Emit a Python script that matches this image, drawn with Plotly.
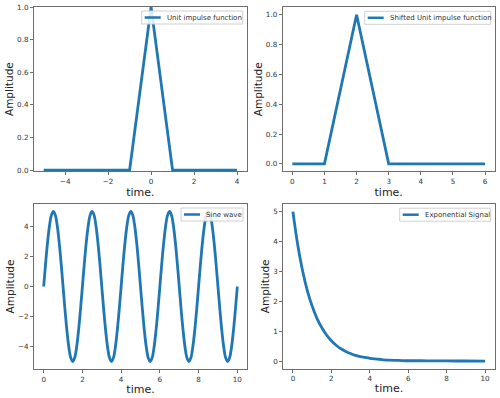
import plotly.graph_objects as go

# ---- data ----
t_impulse = [-5, -4, -3, -2, -1, 0, 1, 2, 3, 4]
impulse = [0, 0, 0, 0, 0, 1, 0, 0, 0, 0]

t_shift = [0, 1, 2, 3, 4, 5, 6]
shifted = [0, 0, 1, 0, 0, 0, 0]

t_sine = [round(0.1 * i, 1) for i in range(101)]
sine = [
    0, 1.55, 2.94, 4.05, 4.76, 5.0, 4.76, 4.05, 2.94, 1.55,
    0, -1.55, -2.94, -4.05, -4.76, -5.0, -4.76, -4.05, -2.94, -1.55,
    0, 1.55, 2.94, 4.05, 4.76, 5.0, 4.76, 4.05, 2.94, 1.55,
    0, -1.55, -2.94, -4.05, -4.76, -5.0, -4.76, -4.05, -2.94, -1.55,
    0, 1.55, 2.94, 4.05, 4.76, 5.0, 4.76, 4.05, 2.94, 1.55,
    0, -1.55, -2.94, -4.05, -4.76, -5.0, -4.76, -4.05, -2.94, -1.55,
    0, 1.55, 2.94, 4.05, 4.76, 5.0, 4.76, 4.05, 2.94, 1.55,
    0, -1.55, -2.94, -4.05, -4.76, -5.0, -4.76, -4.05, -2.94, -1.55,
    0, 1.55, 2.94, 4.05, 4.76, 5.0, 4.76, 4.05, 2.94, 1.55,
    0, -1.55, -2.94, -4.05, -4.76, -5.0, -4.76, -4.05, -2.94, -1.55,
    0,
]

t_exp = [0, 0.25, 0.5, 0.75, 1, 1.25, 1.5, 1.75, 2, 2.25, 2.5, 2.75, 3, 3.25,
         3.5, 3.75, 4, 4.25, 4.5, 4.75, 5, 5.5, 6, 6.5, 7, 8, 9, 10]
expo = [5.0, 3.89, 3.03, 2.36, 1.84, 1.43, 1.12, 0.87, 0.68, 0.53, 0.41, 0.32,
        0.25, 0.19, 0.15, 0.12, 0.09, 0.07, 0.06, 0.04, 0.03, 0.02, 0.01, 0.01,
        0.005, 0.002, 0.001, 0.0]

names = ["Unit impulse function", "Shifted Unit impulse function",
         "Sine wave", "Exponential Signal"]

W, H = 500, 398
BLUE = "#1f77b4"
FONT = "DejaVu Sans"
SPINE = "#6e6e6e"


def fx(v):
    return v / W


def fy(v):
    return 1 - v / H


panels = [
    dict(px=(34, 246.7), py=(7, 171.3), xr=[-5.45, 4.45], yr=[-0.007, 1.0],
         xt=[-4, -2, 0, 2, 4], yt=[0, 0.2, 0.4, 0.6, 0.8, 1.0],
         ytt=["0.0", "0.2", "0.4", "0.6", "0.8", "1.0"], legw=101),
    dict(px=(282.7, 494.7), py=(7.3, 171.3), xr=[-0.3, 6.3], yr=[-0.05, 1.05],
         xt=[0, 1, 2, 3, 4, 5, 6], yt=[0, 0.2, 0.4, 0.6, 0.8, 1.0],
         ytt=["0.0", "0.2", "0.4", "0.6", "0.8", "1.0"], legw=126),
    dict(px=(34, 247), py=(204, 369), xr=[-0.5, 10.5], yr=[-5.5, 5.5],
         xt=[0, 2, 4, 6, 8, 10], yt=[-4, -2, 0, 2, 4],
         ytt=["\u22124", "\u22122", "0", "2", "4"], legw=62),
    dict(px=(283.3, 494.7), py=(204.2, 368.5), xr=[-0.5, 10.5], yr=[-0.25, 5.25],
         xt=[0, 2, 4, 6, 8, 10], yt=[0, 1, 2, 3, 4, 5],
         ytt=["0", "1", "2", "3", "4", "5"], legw=91),
]

xs = [t_impulse, t_shift, t_sine, t_exp]
ys = [impulse, shifted, sine, expo]
shapes_kind = ["linear", "linear", "spline", "spline"]

fig = go.Figure()
layout = dict(
    width=W, height=H,
    margin=dict(l=0, r=0, t=0, b=0),
    paper_bgcolor="white", plot_bgcolor="white",
    font=dict(family=FONT, color="#333333"),
    showlegend=False,
)
shapes = []
annotations = []

for i, p in enumerate(panels):
    n = "" if i == 0 else str(i + 1)
    fig.add_trace(go.Scatter(
        x=xs[i], y=ys[i], mode="lines", name=names[i],
        line=dict(color=BLUE, width=2.8, shape=shapes_kind[i]),
        xaxis="x" + n, yaxis="y" + n,
    ))
    xt_text = [("\u2212" + str(-v)) if v < 0 else str(v) for v in p["xt"]]
    layout["xaxis" + n] = dict(
        domain=[fx(p["px"][0]), fx(p["px"][1])], range=p["xr"], anchor="y" + n,
        showgrid=False, zeroline=False, showline=True, mirror=True,
        linecolor=SPINE, linewidth=1,
        ticks="outside", ticklen=3, tickcolor=SPINE, tickwidth=1,
        tickvals=p["xt"], ticktext=xt_text,
        tickfont=dict(size=7.2, family=FONT, color="#333333"),
        title=dict(text="time.", font=dict(size=11, family=FONT, color="#222222"),
                   standoff=2),
        automargin=False,
    )
    layout["yaxis" + n] = dict(
        domain=[fy(p["py"][1]), fy(p["py"][0])], range=p["yr"], anchor="x" + n,
        showgrid=False, zeroline=False, showline=True, mirror=True,
        linecolor=SPINE, linewidth=1,
        ticks="outside", ticklen=3, tickcolor=SPINE, tickwidth=1,
        tickvals=p["yt"], ticktext=p["ytt"],
        tickfont=dict(size=7.2, family=FONT, color="#333333"),
        title=dict(text="Amplitude", font=dict(size=10.5, family=FONT, color="#222222"),
                   standoff=1),
        automargin=False,
    )

    # legend box in the upper right corner of each panel
    right = p["px"][1] - 4
    left = right - p["legw"]
    top = p["py"][0] + 4
    bottom = top + 13
    mid = (top + bottom) / 2
    shapes.append(dict(
        type="rect", xref="paper", yref="paper",
        x0=fx(left), x1=fx(right), y0=fy(bottom), y1=fy(top),
        line=dict(color="#d0d0d0", width=1),
        fillcolor="rgba(255,255,255,0.85)", layer="above",
    ))
    shapes.append(dict(
        type="line", xref="paper", yref="paper",
        x0=fx(left + 3), x1=fx(left + 19), y0=fy(mid), y1=fy(mid),
        line=dict(color=BLUE, width=2.5), layer="above",
    ))
    annotations.append(dict(
        text=names[i], xref="paper", yref="paper",
        x=fx(left + 23), y=fy(mid), xanchor="left", yanchor="middle",
        showarrow=False, font=dict(size=7, family=FONT, color="#333333"),
    ))

layout["shapes"] = shapes
layout["annotations"] = annotations
fig.update_layout(**layout)
fig.write_html("out.html",
               config={"displayModeBar": False},
               post_script="document.body.style.margin='0';document.body.style.overflow='hidden';")
